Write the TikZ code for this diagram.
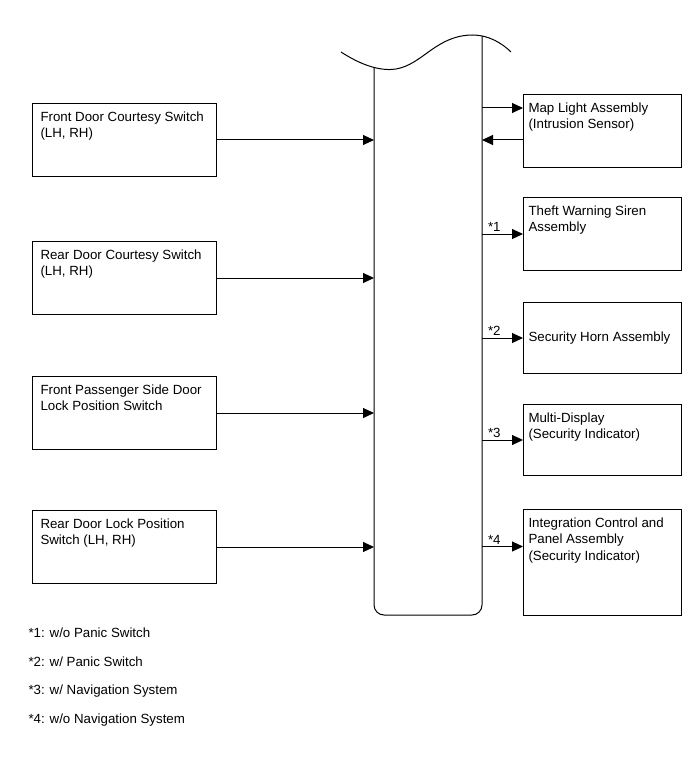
\documentclass[tikz,border=0pt]{standalone}
\usepackage{fontspec}
\setmainfont{Liberation Sans}
\usetikzlibrary{arrows.meta}
\begin{document}
\begin{tikzpicture}[x=1pt,y=-1pt,line width=1pt,
  font=\fontsize{13.3}{16.3}\selectfont,
  lbox/.style={draw,anchor=north west,minimum width=184pt,minimum height=73pt,inner sep=0pt},
  rbox/.style={draw,anchor=north west,minimum width=158pt,inner sep=0pt},
  ltxt/.style={anchor=north west,align=left,inner xsep=8pt,inner ysep=8.5pt},
  rtxt/.style={anchor=north west,align=left,inner xsep=5pt,inner ysep=8.5pt},
  arr/.style={-{Triangle[length=11pt,width=10pt]}},
  star/.style={above,pos=0.3,inner sep=2pt},
  note/.style={anchor=west,inner sep=0pt}]
\useasboundingbox (0,0) rectangle (691,759);
% truncated unit
\coordinate (barL) at (374,67.5);
\coordinate (barR) at (482,35.9);
\draw (341,52) .. controls (358,63) and (375,70) .. (391,69.5)
  .. controls (405,69) and (416,61) .. (427,53)
  .. controls (442,42) and (455,35) .. (473,35)
  .. controls (488,35) and (502,43) .. (511,52);
\draw[rounded corners=10pt] (barL) -- (374,615) -- (482,615) -- (barR);
% inputs
\node[lbox] (fdcs) at (32,103) {};
\node[ltxt] at (fdcs.north west) {Front Door Courtesy Switch\\(LH, RH)};
\node[lbox] (rdcs) at (32,241) {};
\node[ltxt] at (rdcs.north west) {Rear Door Courtesy Switch\\(LH, RH)};
\node[lbox] (fpls) at (32,376) {};
\node[ltxt] at (fpls.north west) {Front Passenger Side Door\\Lock Position Switch};
\node[lbox] (rdls) at (32,510) {};
\node[ltxt] at (rdls.north west) {Rear Door Lock Position\\Switch (LH, RH)};
\draw[arr] (fdcs.east) -- (fdcs.east -| barL);
\draw[arr] (rdcs.east) -- (rdcs.east -| barL);
\draw[arr] (fpls.east) -- (fpls.east -| barL);
\draw[arr] (rdls.east) -- (rdls.east -| barL);
% outputs
\node[rbox,minimum height=73pt] (map) at (523,94) {};
\node[rtxt] at (map.north west) {Map Light Assembly\\(Intrusion Sensor)};
\node[rbox,minimum height=73pt] (siren) at (523,197) {};
\node[rtxt] at (siren.north west) {Theft Warning Siren\\Assembly};
\node[rbox,minimum height=71pt] (horn) at (523,302) {};
\node[rtxt,anchor=west,inner ysep=0pt] at (horn.west) {Security Horn Assembly};
\node[rbox,minimum height=71pt] (mdisp) at (523,404) {};
\node[rtxt] at (mdisp.north west) {Multi-Display\\(Security Indicator)};
\node[rbox,minimum height=106pt] (icpa) at (523,509) {};
\node[rtxt] at (icpa.north west) {Integration Control and\\Panel Assembly\\(Security Indicator)};
\coordinate (mapout) at (482,108);
\coordinate (mapin) at (482,140);
\coordinate (icpaout) at (482,546.5);
\draw[arr] (mapout) -- (mapout -| map.west);
\draw[arr] (mapin -| map.west) -- (mapin);
\draw[arr] (siren.west -| barR) -- node[star] {*1} (siren.west);
\draw[arr] (horn.west -| barR) -- node[star] {*2} (horn.west);
\draw[arr] (mdisp.west -| barR) -- node[star] {*3} (mdisp.west);
\draw[arr] (icpaout) -- node[star] {*4} (icpaout -| icpa.west);
% notes
\node[note] (n1) at (28,633) {*1: w/o Panic Switch};
\node[note] (n2) at (28,662) {*2: w/ Panic Switch};
\node[note] (n3) at (28,691.5) {*3: w/ Navigation System};
\node[note] (n4) at (28,720) {*4: w/o Navigation System};
\end{tikzpicture}
\end{document}
